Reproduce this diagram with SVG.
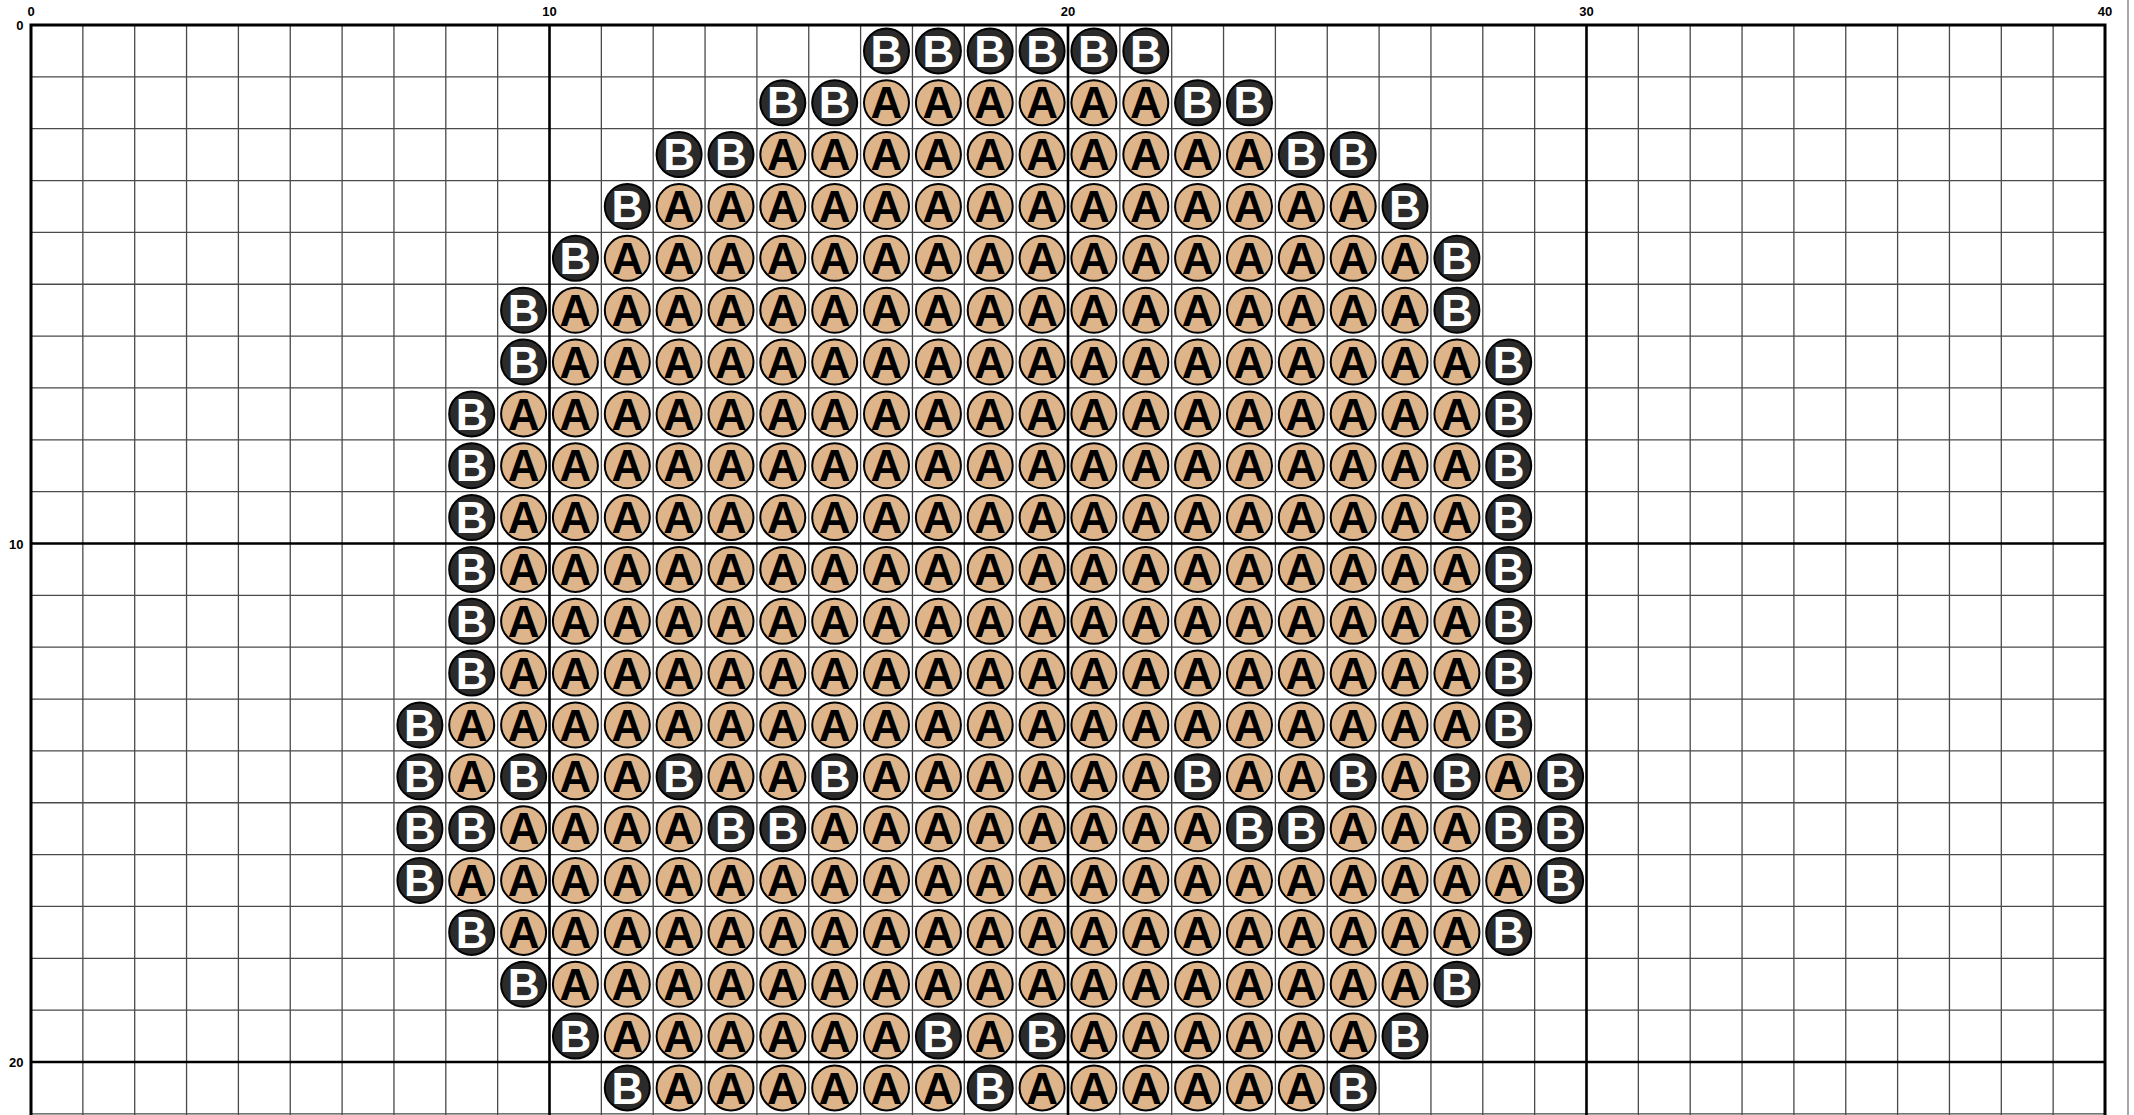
<svg xmlns="http://www.w3.org/2000/svg" width="2134" height="1115" viewBox="0 0 2134 1115">
<style>
.thin{fill:none;stroke:#4a4a4a;stroke-width:1.3}
.major{fill:none;stroke:#000;stroke-width:2.6}
.border{fill:none;stroke:#000;stroke-width:3}
.lbl{font-family:"Liberation Sans",Arial,sans-serif;font-weight:bold;font-size:13px;fill:#000}
.glyph{font-family:"Liberation Sans",Arial,sans-serif;font-weight:bold;font-size:44px;text-anchor:middle}
</style>
<defs>
<g id="A"><circle r="22.5" fill="#DEB48A" stroke="#000" stroke-width="2"/><text class="glyph" y="15.6" fill="#000">A</text></g>
<g id="B"><circle r="22.5" fill="#2B2B2B" stroke="#000" stroke-width="2"/><text class="glyph" y="15.6" fill="#fff">B</text></g>
</defs>
<rect width="2134" height="1115" fill="#fff"/>
<g id="grid">
<path class="thin" d="M82.85 25V1115M134.7 25V1115M186.55 25V1115M238.4 25V1115M290.25 25V1115M342.1 25V1115M393.95 25V1115M445.8 25V1115M497.65 25V1115M601.35 25V1115M653.2 25V1115M705.05 25V1115M756.9 25V1115M808.75 25V1115M860.6 25V1115M912.45 25V1115M964.3 25V1115M1016.15 25V1115M1119.85 25V1115M1171.7 25V1115M1223.55 25V1115M1275.4 25V1115M1327.25 25V1115M1379.1 25V1115M1430.95 25V1115M1482.8 25V1115M1534.65 25V1115M1638.35 25V1115M1690.2 25V1115M1742.05 25V1115M1793.9 25V1115M1845.75 25V1115M1897.6 25V1115M1949.45 25V1115M2001.3 25V1115M2053.15 25V1115M31 76.85H2105M31 128.7H2105M31 180.55H2105M31 232.4H2105M31 284.25H2105M31 336.1H2105M31 387.95H2105M31 439.8H2105M31 491.65H2105M31 595.35H2105M31 647.2H2105M31 699.05H2105M31 750.9H2105M31 802.75H2105M31 854.6H2105M31 906.45H2105M31 958.3H2105M31 1010.15H2105M31 1113.85H2105"/>
<path class="major" d="M549.5 25V1115M1068 25V1115M1586.5 25V1115M31 543.5H2105M31 1062H2105"/>
<path class="border" d="M31 1115V25H2105V1115"/>
<path d="M2128 0V1115" stroke="#8a8a8a" stroke-width="1.5" fill="none"/>
</g>
<g id="labels">
<text class="lbl" x="31" y="15.5" text-anchor="middle">0</text>
<text class="lbl" x="549.5" y="15.5" text-anchor="middle">10</text>
<text class="lbl" x="1068" y="15.5" text-anchor="middle">20</text>
<text class="lbl" x="1586.5" y="15.5" text-anchor="middle">30</text>
<text class="lbl" x="2105" y="15.5" text-anchor="middle">40</text>
<text class="lbl" x="23.5" y="30" text-anchor="end">0</text>
<text class="lbl" x="23.5" y="548.5" text-anchor="end">10</text>
<text class="lbl" x="23.5" y="1067" text-anchor="end">20</text>
</g>
<g id="nodes">
<g id="row0" transform="translate(0,50.9)">
<use id="n0-16" href="#B" x="886.5"/><use id="n0-17" href="#B" x="938.4"/><use id="n0-18" href="#B" x="990.2"/><use id="n0-19" href="#B" x="1042.1"/><use id="n0-20" href="#B" x="1093.9"/><use id="n0-21" href="#B" x="1145.8"/>
</g>
<g id="row1" transform="translate(0,102.8)">
<use id="n1-14" href="#B" x="782.8"/><use id="n1-15" href="#B" x="834.7"/><use id="n1-16" href="#A" x="886.5"/><use id="n1-17" href="#A" x="938.4"/><use id="n1-18" href="#A" x="990.2"/><use id="n1-19" href="#A" x="1042.1"/><use id="n1-20" href="#A" x="1093.9"/><use id="n1-21" href="#A" x="1145.8"/><use id="n1-22" href="#B" x="1197.6"/><use id="n1-23" href="#B" x="1249.5"/>
</g>
<g id="row2" transform="translate(0,154.6)">
<use id="n2-12" href="#B" x="679.1"/><use id="n2-13" href="#B" x="731"/><use id="n2-14" href="#A" x="782.8"/><use id="n2-15" href="#A" x="834.7"/><use id="n2-16" href="#A" x="886.5"/><use id="n2-17" href="#A" x="938.4"/><use id="n2-18" href="#A" x="990.2"/><use id="n2-19" href="#A" x="1042.1"/><use id="n2-20" href="#A" x="1093.9"/><use id="n2-21" href="#A" x="1145.8"/><use id="n2-22" href="#A" x="1197.6"/><use id="n2-23" href="#A" x="1249.5"/><use id="n2-24" href="#B" x="1301.3"/><use id="n2-25" href="#B" x="1353.2"/>
</g>
<g id="row3" transform="translate(0,206.5)">
<use id="n3-11" href="#B" x="627.3"/><use id="n3-12" href="#A" x="679.1"/><use id="n3-13" href="#A" x="731"/><use id="n3-14" href="#A" x="782.8"/><use id="n3-15" href="#A" x="834.7"/><use id="n3-16" href="#A" x="886.5"/><use id="n3-17" href="#A" x="938.4"/><use id="n3-18" href="#A" x="990.2"/><use id="n3-19" href="#A" x="1042.1"/><use id="n3-20" href="#A" x="1093.9"/><use id="n3-21" href="#A" x="1145.8"/><use id="n3-22" href="#A" x="1197.6"/><use id="n3-23" href="#A" x="1249.5"/><use id="n3-24" href="#A" x="1301.3"/><use id="n3-25" href="#A" x="1353.2"/><use id="n3-26" href="#B" x="1405"/>
</g>
<g id="row4" transform="translate(0,258.3)">
<use id="n4-10" href="#B" x="575.4"/><use id="n4-11" href="#A" x="627.3"/><use id="n4-12" href="#A" x="679.1"/><use id="n4-13" href="#A" x="731"/><use id="n4-14" href="#A" x="782.8"/><use id="n4-15" href="#A" x="834.7"/><use id="n4-16" href="#A" x="886.5"/><use id="n4-17" href="#A" x="938.4"/><use id="n4-18" href="#A" x="990.2"/><use id="n4-19" href="#A" x="1042.1"/><use id="n4-20" href="#A" x="1093.9"/><use id="n4-21" href="#A" x="1145.8"/><use id="n4-22" href="#A" x="1197.6"/><use id="n4-23" href="#A" x="1249.5"/><use id="n4-24" href="#A" x="1301.3"/><use id="n4-25" href="#A" x="1353.2"/><use id="n4-26" href="#A" x="1405"/><use id="n4-27" href="#B" x="1456.9"/>
</g>
<g id="row5" transform="translate(0,310.2)">
<use id="n5-9" href="#B" x="523.6"/><use id="n5-10" href="#A" x="575.4"/><use id="n5-11" href="#A" x="627.3"/><use id="n5-12" href="#A" x="679.1"/><use id="n5-13" href="#A" x="731"/><use id="n5-14" href="#A" x="782.8"/><use id="n5-15" href="#A" x="834.7"/><use id="n5-16" href="#A" x="886.5"/><use id="n5-17" href="#A" x="938.4"/><use id="n5-18" href="#A" x="990.2"/><use id="n5-19" href="#A" x="1042.1"/><use id="n5-20" href="#A" x="1093.9"/><use id="n5-21" href="#A" x="1145.8"/><use id="n5-22" href="#A" x="1197.6"/><use id="n5-23" href="#A" x="1249.5"/><use id="n5-24" href="#A" x="1301.3"/><use id="n5-25" href="#A" x="1353.2"/><use id="n5-26" href="#A" x="1405"/><use id="n5-27" href="#B" x="1456.9"/>
</g>
<g id="row6" transform="translate(0,362)">
<use id="n6-9" href="#B" x="523.6"/><use id="n6-10" href="#A" x="575.4"/><use id="n6-11" href="#A" x="627.3"/><use id="n6-12" href="#A" x="679.1"/><use id="n6-13" href="#A" x="731"/><use id="n6-14" href="#A" x="782.8"/><use id="n6-15" href="#A" x="834.7"/><use id="n6-16" href="#A" x="886.5"/><use id="n6-17" href="#A" x="938.4"/><use id="n6-18" href="#A" x="990.2"/><use id="n6-19" href="#A" x="1042.1"/><use id="n6-20" href="#A" x="1093.9"/><use id="n6-21" href="#A" x="1145.8"/><use id="n6-22" href="#A" x="1197.6"/><use id="n6-23" href="#A" x="1249.5"/><use id="n6-24" href="#A" x="1301.3"/><use id="n6-25" href="#A" x="1353.2"/><use id="n6-26" href="#A" x="1405"/><use id="n6-27" href="#A" x="1456.9"/><use id="n6-28" href="#B" x="1508.7"/>
</g>
<g id="row7" transform="translate(0,413.9)">
<use id="n7-8" href="#B" x="471.7"/><use id="n7-9" href="#A" x="523.6"/><use id="n7-10" href="#A" x="575.4"/><use id="n7-11" href="#A" x="627.3"/><use id="n7-12" href="#A" x="679.1"/><use id="n7-13" href="#A" x="731"/><use id="n7-14" href="#A" x="782.8"/><use id="n7-15" href="#A" x="834.7"/><use id="n7-16" href="#A" x="886.5"/><use id="n7-17" href="#A" x="938.4"/><use id="n7-18" href="#A" x="990.2"/><use id="n7-19" href="#A" x="1042.1"/><use id="n7-20" href="#A" x="1093.9"/><use id="n7-21" href="#A" x="1145.8"/><use id="n7-22" href="#A" x="1197.6"/><use id="n7-23" href="#A" x="1249.5"/><use id="n7-24" href="#A" x="1301.3"/><use id="n7-25" href="#A" x="1353.2"/><use id="n7-26" href="#A" x="1405"/><use id="n7-27" href="#A" x="1456.9"/><use id="n7-28" href="#B" x="1508.7"/>
</g>
<g id="row8" transform="translate(0,465.7)">
<use id="n8-8" href="#B" x="471.7"/><use id="n8-9" href="#A" x="523.6"/><use id="n8-10" href="#A" x="575.4"/><use id="n8-11" href="#A" x="627.3"/><use id="n8-12" href="#A" x="679.1"/><use id="n8-13" href="#A" x="731"/><use id="n8-14" href="#A" x="782.8"/><use id="n8-15" href="#A" x="834.7"/><use id="n8-16" href="#A" x="886.5"/><use id="n8-17" href="#A" x="938.4"/><use id="n8-18" href="#A" x="990.2"/><use id="n8-19" href="#A" x="1042.1"/><use id="n8-20" href="#A" x="1093.9"/><use id="n8-21" href="#A" x="1145.8"/><use id="n8-22" href="#A" x="1197.6"/><use id="n8-23" href="#A" x="1249.5"/><use id="n8-24" href="#A" x="1301.3"/><use id="n8-25" href="#A" x="1353.2"/><use id="n8-26" href="#A" x="1405"/><use id="n8-27" href="#A" x="1456.9"/><use id="n8-28" href="#B" x="1508.7"/>
</g>
<g id="row9" transform="translate(0,517.6)">
<use id="n9-8" href="#B" x="471.7"/><use id="n9-9" href="#A" x="523.6"/><use id="n9-10" href="#A" x="575.4"/><use id="n9-11" href="#A" x="627.3"/><use id="n9-12" href="#A" x="679.1"/><use id="n9-13" href="#A" x="731"/><use id="n9-14" href="#A" x="782.8"/><use id="n9-15" href="#A" x="834.7"/><use id="n9-16" href="#A" x="886.5"/><use id="n9-17" href="#A" x="938.4"/><use id="n9-18" href="#A" x="990.2"/><use id="n9-19" href="#A" x="1042.1"/><use id="n9-20" href="#A" x="1093.9"/><use id="n9-21" href="#A" x="1145.8"/><use id="n9-22" href="#A" x="1197.6"/><use id="n9-23" href="#A" x="1249.5"/><use id="n9-24" href="#A" x="1301.3"/><use id="n9-25" href="#A" x="1353.2"/><use id="n9-26" href="#A" x="1405"/><use id="n9-27" href="#A" x="1456.9"/><use id="n9-28" href="#B" x="1508.7"/>
</g>
<g id="row10" transform="translate(0,569.4)">
<use id="n10-8" href="#B" x="471.7"/><use id="n10-9" href="#A" x="523.6"/><use id="n10-10" href="#A" x="575.4"/><use id="n10-11" href="#A" x="627.3"/><use id="n10-12" href="#A" x="679.1"/><use id="n10-13" href="#A" x="731"/><use id="n10-14" href="#A" x="782.8"/><use id="n10-15" href="#A" x="834.7"/><use id="n10-16" href="#A" x="886.5"/><use id="n10-17" href="#A" x="938.4"/><use id="n10-18" href="#A" x="990.2"/><use id="n10-19" href="#A" x="1042.1"/><use id="n10-20" href="#A" x="1093.9"/><use id="n10-21" href="#A" x="1145.8"/><use id="n10-22" href="#A" x="1197.6"/><use id="n10-23" href="#A" x="1249.5"/><use id="n10-24" href="#A" x="1301.3"/><use id="n10-25" href="#A" x="1353.2"/><use id="n10-26" href="#A" x="1405"/><use id="n10-27" href="#A" x="1456.9"/><use id="n10-28" href="#B" x="1508.7"/>
</g>
<g id="row11" transform="translate(0,621.3)">
<use id="n11-8" href="#B" x="471.7"/><use id="n11-9" href="#A" x="523.6"/><use id="n11-10" href="#A" x="575.4"/><use id="n11-11" href="#A" x="627.3"/><use id="n11-12" href="#A" x="679.1"/><use id="n11-13" href="#A" x="731"/><use id="n11-14" href="#A" x="782.8"/><use id="n11-15" href="#A" x="834.7"/><use id="n11-16" href="#A" x="886.5"/><use id="n11-17" href="#A" x="938.4"/><use id="n11-18" href="#A" x="990.2"/><use id="n11-19" href="#A" x="1042.1"/><use id="n11-20" href="#A" x="1093.9"/><use id="n11-21" href="#A" x="1145.8"/><use id="n11-22" href="#A" x="1197.6"/><use id="n11-23" href="#A" x="1249.5"/><use id="n11-24" href="#A" x="1301.3"/><use id="n11-25" href="#A" x="1353.2"/><use id="n11-26" href="#A" x="1405"/><use id="n11-27" href="#A" x="1456.9"/><use id="n11-28" href="#B" x="1508.7"/>
</g>
<g id="row12" transform="translate(0,673.1)">
<use id="n12-8" href="#B" x="471.7"/><use id="n12-9" href="#A" x="523.6"/><use id="n12-10" href="#A" x="575.4"/><use id="n12-11" href="#A" x="627.3"/><use id="n12-12" href="#A" x="679.1"/><use id="n12-13" href="#A" x="731"/><use id="n12-14" href="#A" x="782.8"/><use id="n12-15" href="#A" x="834.7"/><use id="n12-16" href="#A" x="886.5"/><use id="n12-17" href="#A" x="938.4"/><use id="n12-18" href="#A" x="990.2"/><use id="n12-19" href="#A" x="1042.1"/><use id="n12-20" href="#A" x="1093.9"/><use id="n12-21" href="#A" x="1145.8"/><use id="n12-22" href="#A" x="1197.6"/><use id="n12-23" href="#A" x="1249.5"/><use id="n12-24" href="#A" x="1301.3"/><use id="n12-25" href="#A" x="1353.2"/><use id="n12-26" href="#A" x="1405"/><use id="n12-27" href="#A" x="1456.9"/><use id="n12-28" href="#B" x="1508.7"/>
</g>
<g id="row13" transform="translate(0,725)">
<use id="n13-7" href="#B" x="419.9"/><use id="n13-8" href="#A" x="471.7"/><use id="n13-9" href="#A" x="523.6"/><use id="n13-10" href="#A" x="575.4"/><use id="n13-11" href="#A" x="627.3"/><use id="n13-12" href="#A" x="679.1"/><use id="n13-13" href="#A" x="731"/><use id="n13-14" href="#A" x="782.8"/><use id="n13-15" href="#A" x="834.7"/><use id="n13-16" href="#A" x="886.5"/><use id="n13-17" href="#A" x="938.4"/><use id="n13-18" href="#A" x="990.2"/><use id="n13-19" href="#A" x="1042.1"/><use id="n13-20" href="#A" x="1093.9"/><use id="n13-21" href="#A" x="1145.8"/><use id="n13-22" href="#A" x="1197.6"/><use id="n13-23" href="#A" x="1249.5"/><use id="n13-24" href="#A" x="1301.3"/><use id="n13-25" href="#A" x="1353.2"/><use id="n13-26" href="#A" x="1405"/><use id="n13-27" href="#A" x="1456.9"/><use id="n13-28" href="#B" x="1508.7"/>
</g>
<g id="row14" transform="translate(0,776.8)">
<use id="n14-7" href="#B" x="419.9"/><use id="n14-8" href="#A" x="471.7"/><use id="n14-9" href="#B" x="523.6"/><use id="n14-10" href="#A" x="575.4"/><use id="n14-11" href="#A" x="627.3"/><use id="n14-12" href="#B" x="679.1"/><use id="n14-13" href="#A" x="731"/><use id="n14-14" href="#A" x="782.8"/><use id="n14-15" href="#B" x="834.7"/><use id="n14-16" href="#A" x="886.5"/><use id="n14-17" href="#A" x="938.4"/><use id="n14-18" href="#A" x="990.2"/><use id="n14-19" href="#A" x="1042.1"/><use id="n14-20" href="#A" x="1093.9"/><use id="n14-21" href="#A" x="1145.8"/><use id="n14-22" href="#B" x="1197.6"/><use id="n14-23" href="#A" x="1249.5"/><use id="n14-24" href="#A" x="1301.3"/><use id="n14-25" href="#B" x="1353.2"/><use id="n14-26" href="#A" x="1405"/><use id="n14-27" href="#B" x="1456.9"/><use id="n14-28" href="#A" x="1508.7"/><use id="n14-29" href="#B" x="1560.6"/>
</g>
<g id="row15" transform="translate(0,828.7)">
<use id="n15-7" href="#B" x="419.9"/><use id="n15-8" href="#B" x="471.7"/><use id="n15-9" href="#A" x="523.6"/><use id="n15-10" href="#A" x="575.4"/><use id="n15-11" href="#A" x="627.3"/><use id="n15-12" href="#A" x="679.1"/><use id="n15-13" href="#B" x="731"/><use id="n15-14" href="#B" x="782.8"/><use id="n15-15" href="#A" x="834.7"/><use id="n15-16" href="#A" x="886.5"/><use id="n15-17" href="#A" x="938.4"/><use id="n15-18" href="#A" x="990.2"/><use id="n15-19" href="#A" x="1042.1"/><use id="n15-20" href="#A" x="1093.9"/><use id="n15-21" href="#A" x="1145.8"/><use id="n15-22" href="#A" x="1197.6"/><use id="n15-23" href="#B" x="1249.5"/><use id="n15-24" href="#B" x="1301.3"/><use id="n15-25" href="#A" x="1353.2"/><use id="n15-26" href="#A" x="1405"/><use id="n15-27" href="#A" x="1456.9"/><use id="n15-28" href="#B" x="1508.7"/><use id="n15-29" href="#B" x="1560.6"/>
</g>
<g id="row16" transform="translate(0,880.5)">
<use id="n16-7" href="#B" x="419.9"/><use id="n16-8" href="#A" x="471.7"/><use id="n16-9" href="#A" x="523.6"/><use id="n16-10" href="#A" x="575.4"/><use id="n16-11" href="#A" x="627.3"/><use id="n16-12" href="#A" x="679.1"/><use id="n16-13" href="#A" x="731"/><use id="n16-14" href="#A" x="782.8"/><use id="n16-15" href="#A" x="834.7"/><use id="n16-16" href="#A" x="886.5"/><use id="n16-17" href="#A" x="938.4"/><use id="n16-18" href="#A" x="990.2"/><use id="n16-19" href="#A" x="1042.1"/><use id="n16-20" href="#A" x="1093.9"/><use id="n16-21" href="#A" x="1145.8"/><use id="n16-22" href="#A" x="1197.6"/><use id="n16-23" href="#A" x="1249.5"/><use id="n16-24" href="#A" x="1301.3"/><use id="n16-25" href="#A" x="1353.2"/><use id="n16-26" href="#A" x="1405"/><use id="n16-27" href="#A" x="1456.9"/><use id="n16-28" href="#A" x="1508.7"/><use id="n16-29" href="#B" x="1560.6"/>
</g>
<g id="row17" transform="translate(0,932.4)">
<use id="n17-8" href="#B" x="471.7"/><use id="n17-9" href="#A" x="523.6"/><use id="n17-10" href="#A" x="575.4"/><use id="n17-11" href="#A" x="627.3"/><use id="n17-12" href="#A" x="679.1"/><use id="n17-13" href="#A" x="731"/><use id="n17-14" href="#A" x="782.8"/><use id="n17-15" href="#A" x="834.7"/><use id="n17-16" href="#A" x="886.5"/><use id="n17-17" href="#A" x="938.4"/><use id="n17-18" href="#A" x="990.2"/><use id="n17-19" href="#A" x="1042.1"/><use id="n17-20" href="#A" x="1093.9"/><use id="n17-21" href="#A" x="1145.8"/><use id="n17-22" href="#A" x="1197.6"/><use id="n17-23" href="#A" x="1249.5"/><use id="n17-24" href="#A" x="1301.3"/><use id="n17-25" href="#A" x="1353.2"/><use id="n17-26" href="#A" x="1405"/><use id="n17-27" href="#A" x="1456.9"/><use id="n17-28" href="#B" x="1508.7"/>
</g>
<g id="row18" transform="translate(0,984.2)">
<use id="n18-9" href="#B" x="523.6"/><use id="n18-10" href="#A" x="575.4"/><use id="n18-11" href="#A" x="627.3"/><use id="n18-12" href="#A" x="679.1"/><use id="n18-13" href="#A" x="731"/><use id="n18-14" href="#A" x="782.8"/><use id="n18-15" href="#A" x="834.7"/><use id="n18-16" href="#A" x="886.5"/><use id="n18-17" href="#A" x="938.4"/><use id="n18-18" href="#A" x="990.2"/><use id="n18-19" href="#A" x="1042.1"/><use id="n18-20" href="#A" x="1093.9"/><use id="n18-21" href="#A" x="1145.8"/><use id="n18-22" href="#A" x="1197.6"/><use id="n18-23" href="#A" x="1249.5"/><use id="n18-24" href="#A" x="1301.3"/><use id="n18-25" href="#A" x="1353.2"/><use id="n18-26" href="#A" x="1405"/><use id="n18-27" href="#B" x="1456.9"/>
</g>
<g id="row19" transform="translate(0,1036.1)">
<use id="n19-10" href="#B" x="575.4"/><use id="n19-11" href="#A" x="627.3"/><use id="n19-12" href="#A" x="679.1"/><use id="n19-13" href="#A" x="731"/><use id="n19-14" href="#A" x="782.8"/><use id="n19-15" href="#A" x="834.7"/><use id="n19-16" href="#A" x="886.5"/><use id="n19-17" href="#B" x="938.4"/><use id="n19-18" href="#A" x="990.2"/><use id="n19-19" href="#B" x="1042.1"/><use id="n19-20" href="#A" x="1093.9"/><use id="n19-21" href="#A" x="1145.8"/><use id="n19-22" href="#A" x="1197.6"/><use id="n19-23" href="#A" x="1249.5"/><use id="n19-24" href="#A" x="1301.3"/><use id="n19-25" href="#A" x="1353.2"/><use id="n19-26" href="#B" x="1405"/>
</g>
<g id="row20" transform="translate(0,1087.9)">
<use id="n20-11" href="#B" x="627.3"/><use id="n20-12" href="#A" x="679.1"/><use id="n20-13" href="#A" x="731"/><use id="n20-14" href="#A" x="782.8"/><use id="n20-15" href="#A" x="834.7"/><use id="n20-16" href="#A" x="886.5"/><use id="n20-17" href="#A" x="938.4"/><use id="n20-18" href="#B" x="990.2"/><use id="n20-19" href="#A" x="1042.1"/><use id="n20-20" href="#A" x="1093.9"/><use id="n20-21" href="#A" x="1145.8"/><use id="n20-22" href="#A" x="1197.6"/><use id="n20-23" href="#A" x="1249.5"/><use id="n20-24" href="#A" x="1301.3"/><use id="n20-25" href="#B" x="1353.2"/>
</g>
</g>
<g id="connectors"/>
</svg>
